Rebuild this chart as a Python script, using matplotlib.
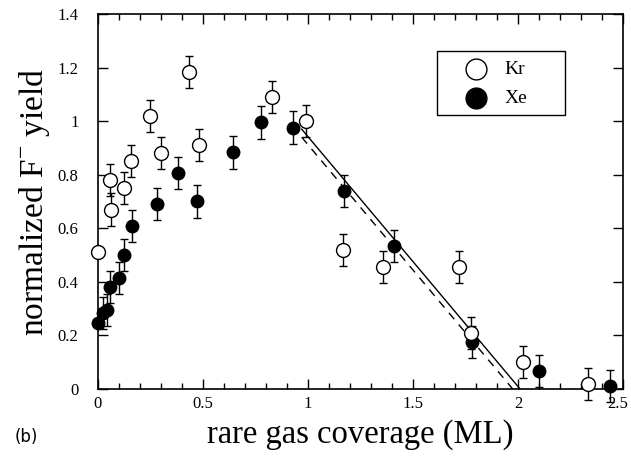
import numpy as np
import matplotlib
matplotlib.use("Agg")
from matplotlib import pyplot as plt
import matplotlib.ticker as ticker
import matplotlib.transforms as mtransforms

plt.rcParams['mathtext.fontset'] = 'custom'
plt.rcParams['mathtext.rm'] = 'Liberation Serif'

# ----- data ----- #
kr_x = [0.0, 0.057, 0.063, 0.124, 0.156, 0.248, 0.298, 0.432, 0.479, 0.829, 0.99,
        1.165, 1.355, 1.72, 1.776, 2.022, 2.335]
kr_y = [0.51, 0.78, 0.67, 0.75, 0.85, 1.02, 0.88, 1.185, 0.91, 1.09, 1.0,
        0.52, 0.455, 0.455, 0.21, 0.10, 0.02]
kr_err = [0.0, 0.06, 0.06, 0.06, 0.06, 0.06, 0.06, 0.06, 0.06, 0.06, 0.06,
          0.06, 0.06, 0.06, 0.06, 0.06, 0.06]

xe_x = [0.0, 0.022, 0.044, 0.057, 0.101, 0.124, 0.162, 0.279, 0.383, 0.47, 0.644,
        0.775, 0.93, 1.171, 1.41, 1.779, 2.10, 2.438]
xe_y = [0.245, 0.283, 0.295, 0.38, 0.413, 0.50, 0.608, 0.69, 0.805, 0.70, 0.883,
        0.995, 0.976, 0.74, 0.534, 0.177, 0.067, 0.012]
xe_err = [0.0, 0.06, 0.06, 0.06, 0.06, 0.06, 0.06, 0.06, 0.06, 0.06, 0.06,
          0.06, 0.06, 0.06, 0.06, 0.06, 0.06, 0.06]

fit_solid_x = [0.97, 2.01]
fit_solid_y = [0.97, 0.0]
fit_dash_x = [0.97, 1.975]
fit_dash_y = [0.94, 0.0]

serif = ['Liberation Serif', 'DejaVu Serif']

fig = plt.figure(figsize=(6.31, 4.57), dpi=100)
ax = fig.add_axes([0.1553, 0.1488, 0.832, 0.8206])

ax.plot(fit_solid_x, fit_solid_y, '-', color='k', lw=1.0, zorder=1)
ax.plot(fit_dash_x, fit_dash_y, '--', color='k', lw=1.0, dashes=(6, 5), zorder=1)

eb_xe = ax.errorbar(xe_x, xe_y, yerr=xe_err, fmt='o', color='k', mfc='k', mec='k', ms=9,
                    ecolor='k', elinewidth=1.0, capsize=3, capthick=1.0, zorder=3)
eb_kr = ax.errorbar(kr_x, kr_y, yerr=kr_err, fmt='o', color='k', mfc='white', mec='k', ms=10,
                    mew=1.0, ecolor='k', elinewidth=1.0, capsize=3, capthick=1.0, zorder=4)
for eb in [eb_xe, eb_kr]:
    for art in eb.get_children():
        art.set_clip_on(False)

ax.set_xlim(0, 2.5)
ax.set_ylim(0, 1.4)
ax.set_xticks([0, 0.5, 1, 1.5, 2, 2.5])
ax.set_xticklabels(['0', '0.5', '1', '1.5', '2', '2.5'])
ax.set_yticks([0, 0.2, 0.4, 0.6, 0.8, 1.0, 1.2, 1.4])
ax.set_yticklabels(['0', '0.2', '0.4', '0.6', '0.8', '1', '1.2', '1.4'])
ax.xaxis.set_minor_locator(ticker.MultipleLocator(0.1))
ax.tick_params(which='both', direction='in', top=True, right=True)
ax.tick_params(which='major', length=7, width=1.0)
ax.tick_params(which='minor', length=4, width=1.0)
ax.tick_params(axis='x', pad=5)
ax.tick_params(axis='y', pad=14)
for lab in ax.get_xticklabels() + ax.get_yticklabels():
    lab.set_family(serif)
    lab.set_fontsize(12)
for axis in ['top', 'bottom', 'left', 'right']:
    ax.spines[axis].set_linewidth(1.2)

# last x label sits right at the figure edge; nudge it inside
last = ax.get_xticklabels()[-1]
last.set_transform(last.get_transform() +
                   mtransforms.ScaledTranslation(-4 / 72, 0, fig.dpi_scale_trans))

ax.set_xlabel('rare gas coverage (ML)', family=serif, fontsize=23.5, labelpad=5)
ax.set_ylabel(r'normalized F$^{\mathrm{-}}$ yield', family=serif, fontsize=24, labelpad=4)

# legend box
lx0, ly0, lx1, ly1 = 0.645, 0.73, 0.89, 0.90
ax.add_patch(plt.Rectangle((lx0, ly0), lx1 - lx0, ly1 - ly0, transform=ax.transAxes,
                           fill=False, ec='k', lw=1.0, zorder=5))
ax.plot([0.72], [0.853], 'o', transform=ax.transAxes, ms=15, mfc='white', mec='k', mew=1.0)
ax.plot([0.72], [0.775], 'o', transform=ax.transAxes, ms=15, mfc='k', mec='k')
ax.text(0.775, 0.853, 'Kr', transform=ax.transAxes, family=serif, fontsize=14, va='center')
ax.text(0.775, 0.775, 'Xe', transform=ax.transAxes, family=serif, fontsize=14, va='center')

fig.text(15 / 631, 1 - 437 / 457, '(b)', fontsize=12, ha='left', va='center')

plt.savefig('out.png', dpi=100)
plt.close()
